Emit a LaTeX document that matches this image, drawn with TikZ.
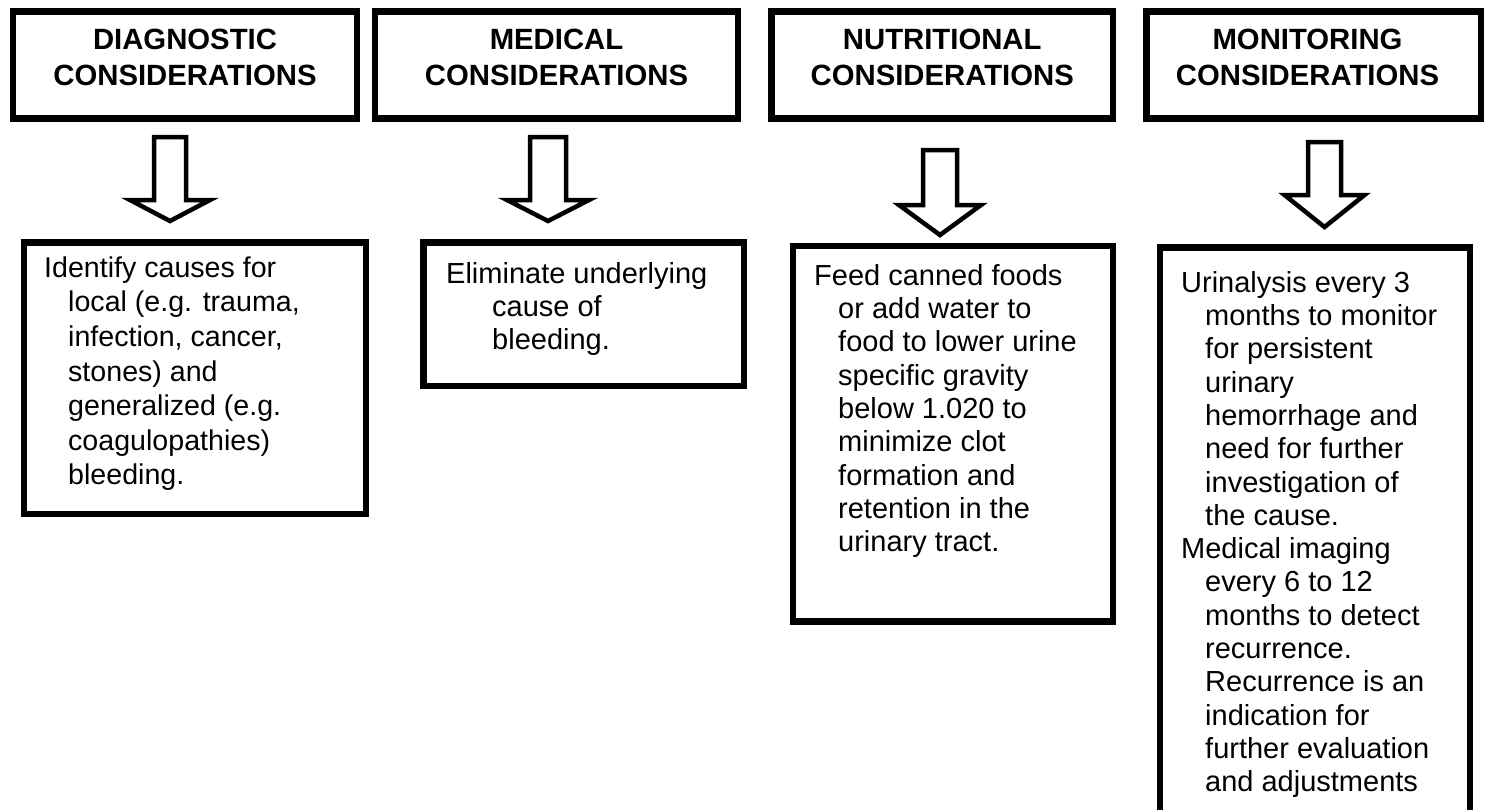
\documentclass[tikz,border=0pt]{standalone}
\usepackage{fontspec}
\setmainfont{Liberation Sans}
\newcommand\myind{\hspace*{24pt}}
\newcommand\mywideind{\hspace*{46pt}}
\begin{document}
\begin{tikzpicture}[x=1pt,y=-1pt,
  hdrbox/.style={draw=black,line width=6.5pt,inner sep=0pt},
  bodybox/.style={draw=black,line width=6.5pt,inner sep=0pt},
  hdrtext/.style={align=center,inner sep=0pt,font=\fontsize{29.3}{35.5}\selectfont\bfseries},
  bodytext/.style={align=left,inner sep=0pt,anchor=north west,font=\fontsize{29}{33.3}\selectfont},
  barrow/.style={draw=black,line width=4.5pt,fill=white,line join=miter}]
\clip (0,0) rectangle (1485,809);
\fill[white] (0,0) rectangle (1485,809);

% header boxes
\node[hdrbox,minimum width=344pt,minimum height=107pt] (h1) at (185,65) {};
\node[hdrbox,minimum width=363pt,minimum height=107pt] (h2) at (556.5,65) {};
\node[hdrbox,minimum width=341.5pt,minimum height=107pt] (h3) at (942.25,65) {};
\node[hdrbox,minimum width=334.5pt,minimum height=107pt] (h4) at (1313.75,65) {};
\node[hdrtext] (t1) at (185,57.25) {DIAGNOSTIC\\CONSIDERATIONS};
\node[hdrtext] (t2) at (556.5,57.25) {MEDICAL\\CONSIDERATIONS};
\node[hdrtext] (t3) at (942.25,57.25) {NUTRITIONAL\\CONSIDERATIONS};
\node[hdrtext] (t4) at (1307.5,57.25) {MONITORING\\CONSIDERATIONS};

% body boxes
\node[bodybox,minimum width=342pt,minimum height=271.5pt] (b1) at (195,378.25) {};
\node[bodybox,minimum width=320.5pt,minimum height=143.5pt] (b2) at (583.75,314.25) {};
\node[bodybox,minimum width=320pt,minimum height=375.5pt] (b3) at (953,433.75) {};
\node[bodybox,minimum width=310pt,minimum height=602.5pt] (b4) at (1315,548.75) {};

\node[bodytext,font=\fontsize{28.6}{34.6}\selectfont] (x1) at (44,252.8) {\strut Identify causes for\\
\myind local (e.g. trauma,\\
\myind infection, cancer,\\
\myind stones) and\\
\myind generalized (e.g.\\
\myind coagulopathies)\\
\myind bleeding.};
\node[bodytext] (x2) at (446,259.7) {\strut Eliminate underlying\\
\mywideind cause of\\
\mywideind bleeding.};
\node[bodytext] (x3) at (814,261.7) {\strut Feed canned foods\\
\myind or add water to\\
\myind food to lower urine\\
\myind specific gravity\\
\myind below 1.020 to\\
\myind minimize clot\\
\myind formation and\\
\myind retention in the\\
\myind urinary tract.};
\node[bodytext] (x4) at (1181,268.7) {\strut Urinalysis every 3\\
\myind months to monitor\\
\myind for persistent\\
\myind urinary\\
\myind hemorrhage and\\
\myind need for further\\
\myind investigation of\\
\myind the cause.\\
Medical imaging\\
\myind every 6 to 12\\
\myind months to detect\\
\myind recurrence.\\
\myind Recurrence is an\\
\myind indication for\\
\myind further evaluation\\
\myind and adjustments};

% block arrows
\coordinate (a1) at (170,137);
\coordinate (a2) at (548,137);
\coordinate (a3) at (940,150);
\coordinate (a4) at (1324.5,142);
\draw[barrow,shift={(a1)}] (-16,0) -- (16,0) -- (16,63) -- (40,63) -- (0,84) -- (-40,63) -- (-16,63) -- cycle;
\draw[barrow,shift={(a2)}] (-18,0) -- (18,0) -- (18,63) -- (41,63) -- (0,84) -- (-41,63) -- (-18,63) -- cycle;
\draw[barrow,shift={(a3)}] (-17,0) -- (17,0) -- (17,55) -- (41,55) -- (0,85) -- (-41,55) -- (-17,55) -- cycle;
\draw[barrow,shift={(a4)}] (-16.5,0) -- (16.5,0) -- (16.5,53) -- (40,53) -- (0,85) -- (-40,53) -- (-16.5,53) -- cycle;
\end{tikzpicture}
\end{document}
